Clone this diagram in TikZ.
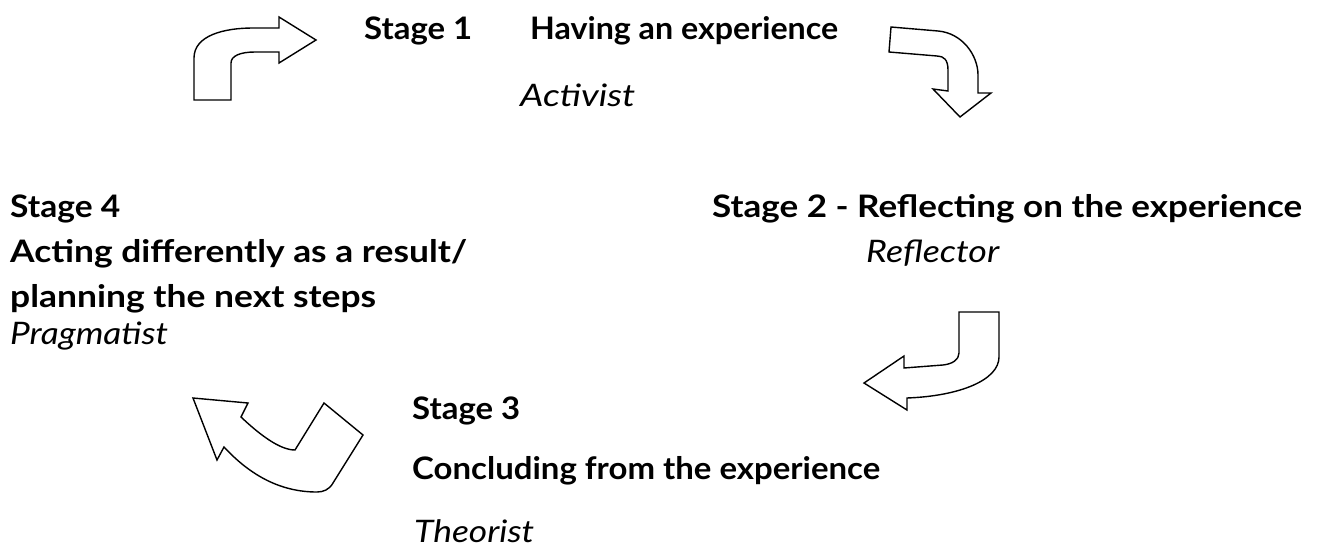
\documentclass[tikz,border=0pt]{standalone}
\usepackage{fontspec}
\setmainfont{Lato}
\usepackage{graphicx}
\newcommand\fitw[2]{\resizebox{#1}{\height}{#2}}
\tikzset{
  lab/.style={anchor=base west, inner sep=0pt, font=\fontsize{31}{36}\selectfont\bfseries},
  role/.style={anchor=base west, inner sep=0pt, font=\fontsize{31}{36}\selectfont\itshape},
  arr/.style={draw=black, line width=1.4pt, fill=white, line join=miter}
}
\begin{document}
\begin{tikzpicture}[x=1pt,y=-1pt]
\useasboundingbox[fill=white] (0,0) rectangle (1322,549);
% arrows
\draw[arr] (194,100) -- (194,58) .. controls (194,35) and (225,28) .. (253,28) -- (279,28) -- (279,17) -- (316,40) -- (279,63) -- (279,52) -- (255,52) .. controls (240,52) and (231,56) .. (231,63) -- (231,100) -- cycle;
\draw[arr] (891,27) -- (938,31) .. controls (962,33) and (978,55) .. (978,75) -- (978,93) -- (991,93) -- (960,117) -- (933,89) -- (948,91) -- (948,70) .. controls (948,60) and (944,56) .. (937,56) -- (889,52) -- cycle;
\draw[arr] (959,312) -- (999,312) -- (999,357) .. controls (999,380) and (960,396) .. (907,398) -- (907,410) -- (864,383) -- (904,356) -- (904,368) -- (943,365) .. controls (952,364) and (959,360) .. (959,353) -- cycle;
\draw[arr] (193,398) -- (248,403) -- (241,417) .. controls (260,435) and (280,450) .. (295,450) -- (324,403) -- (363,435) -- (333,483) .. controls (329,490) and (323,492) .. (317,492) .. controls (280,492) and (250,475) .. (224,447) -- (217,460) -- cycle;
% stage 1
\node[lab] (s1a) at (364,39) {\fitw{108pt}{Stage 1}};
\node[lab] (s1b) at (530,39) {\fitw{308pt}{Having an experience}};
\node[role] (r1) at (520,106) {\fitw{115pt}{Activist}};
% stage 2
\node[lab] (s2) at (712,217) {\fitw{590pt}{Stage 2 - Reflecting on the experience}};
\node[role] (r2) at (866,262) {\fitw{133pt}{Reflector}};
% stage 3
\node[lab] (s3a) at (412,419) {\fitw{108pt}{Stage 3}};
\node[lab] (s3b) at (412,479) {\fitw{468pt}{Concluding from the experience}};
\node[role] (r3) at (414,542) {\fitw{120pt}{Theorist}};
% stage 4
\node[lab] (s4a) at (10,217) {\fitw{110pt}{Stage 4}};
\node[lab] (s4b) at (10,262) {\fitw{457pt}{Acting differently as a result/}};
\node[lab] (s4c) at (10,307) {\fitw{366pt}{planning the next steps}};
\node[role] (r4) at (10,344) {\fitw{158pt}{Pragmatist}};
\end{tikzpicture}
\end{document}
